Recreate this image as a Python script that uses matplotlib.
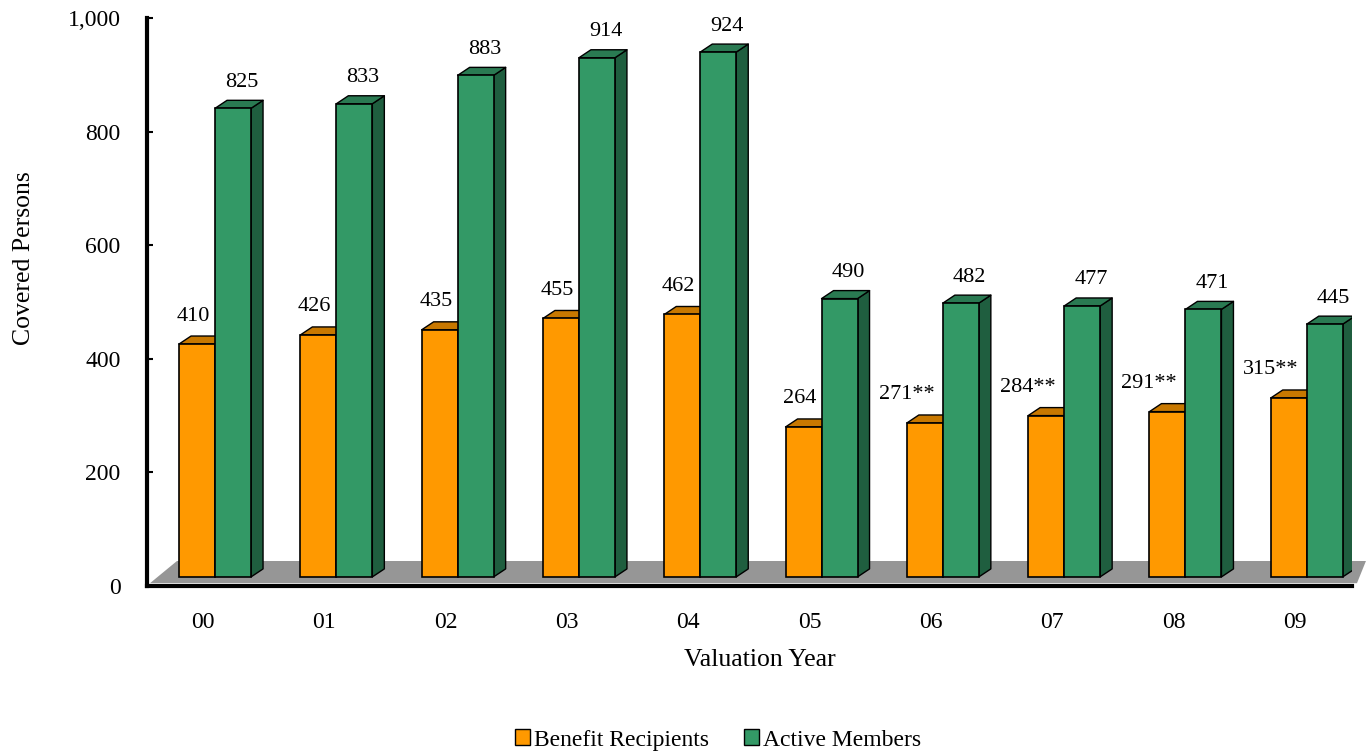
import matplotlib
matplotlib.use("Agg")
import matplotlib.pyplot as plt
from matplotlib.patches import Polygon, Patch
from matplotlib.ticker import FuncFormatter
import numpy as np

years = ["00", "01", "02", "03", "04", "05", "06", "07", "08", "09"]
recipients = [410, 426, 435, 455, 462, 264, 271, 284, 291, 315]
active = [825, 833, 883, 914, 924, 490, 482, 477, 471, 445]
recipient_labels = ["410", "426", "435", "455", "462", "264",
                    "271**", "284**", "291**", "315**"]
active_labels = [str(v) for v in active]

plt.rcParams["font.family"] = ["Liberation Serif", "DejaVu Serif"]

fig = plt.figure(figsize=(13.66, 7.55), dpi=100)
# axes placed in pixel terms: left spine at x=147, 0 at y=586, 1000 at y=18
ax = fig.add_axes([147 / 1366, 1 - 586 / 755, (1352 - 147) / 1366, (586 - 18) / 755])
xmin, xmax = -0.462, 9.472
ax.set_xlim(xmin, xmax)
ax.set_ylim(0, 1000)

px_x = 1205 / (xmax - xmin)     # pixels per x unit
px_y = 568 / 1000               # pixels per y unit
dx = 12 / px_x                  # bar depth offsets
dy = 8 / px_y
base = 16                       # bars stand on the floor

# floor
floor = Polygon([(-0.437, 5), (-0.215, 44), (9.587, 44), (9.513, 5)],
                closed=True, facecolor="#969696", edgecolor="none",
                zorder=1, clip_on=False)
ax.add_patch(floor)

x = np.arange(len(years))
o_left = x - 24 / px_x
g_left = x + 12 / px_x
w = 36 / px_x


def draw_bar(left, val, top, side, z):
    y0, y1 = base, base + val
    r = left + w
    ax.add_patch(Polygon([(r, y0), (r + dx, y0 + dy), (r + dx, y1 + dy), (r, y1)],
                         facecolor=side, edgecolor="black", lw=1.0, zorder=z,
                         joinstyle="round"))
    ax.add_patch(Polygon([(left, y1), (left + dx, y1 + dy), (r + dx, y1 + dy), (r, y1)],
                         facecolor=top, edgecolor="black", lw=1.0, zorder=z,
                         joinstyle="round"))


for i in range(len(years)):
    draw_bar(o_left[i], recipients[i], "#C87800", "#B06A00", 2)
ax.bar(o_left, recipients, width=w, bottom=base, align="edge",
       color="#FF9900", edgecolor="black", linewidth=1.2, zorder=3)
for i in range(len(years)):
    draw_bar(g_left[i], active[i], "#2A7A52", "#1F5E3F", 4)
ax.bar(g_left, active, width=w, bottom=base, align="edge",
       color="#339966", edgecolor="black", linewidth=1.2, zorder=5)

# value labels
for i in range(len(years)):
    off = -0.2 if "*" in recipient_labels[i] else -0.08
    ax.text(x[i] + off, base + recipients[i] + 28 / px_y, recipient_labels[i],
            ha="center", va="center", fontsize=16, zorder=6)
    ax.text(x[i] + 0.32, base + active[i] + 26 / px_y, active_labels[i],
            ha="center", va="center", fontsize=16, zorder=6)

ax.set_xticks(x)
ax.set_xticklabels(years)
ax.set_yticks(np.arange(0, 1001, 200))
ax.yaxis.set_major_formatter(FuncFormatter(lambda v, p: f"{int(v):,}"))
ax.tick_params(axis="x", length=0, pad=19, labelsize=17)
ax.tick_params(axis="y", direction="in", length=4, width=1.5, pad=19, labelsize=17)
for s in ["top", "right"]:
    ax.spines[s].set_visible(False)
for s in ["left", "bottom"]:
    ax.spines[s].set_linewidth(3)
    ax.spines[s].set_zorder(7)

fig.text(24 / 1366, 1 - 258 / 755, "Covered Persons", rotation=90,
         ha="center", va="center", fontsize=18.5)
fig.text(760 / 1366, 1 - 660 / 755, "Valuation Year",
         ha="center", va="center", fontsize=18.5)

handles = [Patch(facecolor="#FF9900", edgecolor="black", label="Benefit Recipients"),
           Patch(facecolor="#339966", edgecolor="black", label="Active Members")]
fig.legend(handles=handles, loc="center", bbox_to_anchor=(718 / 1366, 1 - 740 / 755),
           ncol=2, frameon=False, fontsize=17, handlelength=0.65, handleheight=0.65,
           handletextpad=0.15, columnspacing=1.5)

fig.savefig("out.png", dpi=100)
